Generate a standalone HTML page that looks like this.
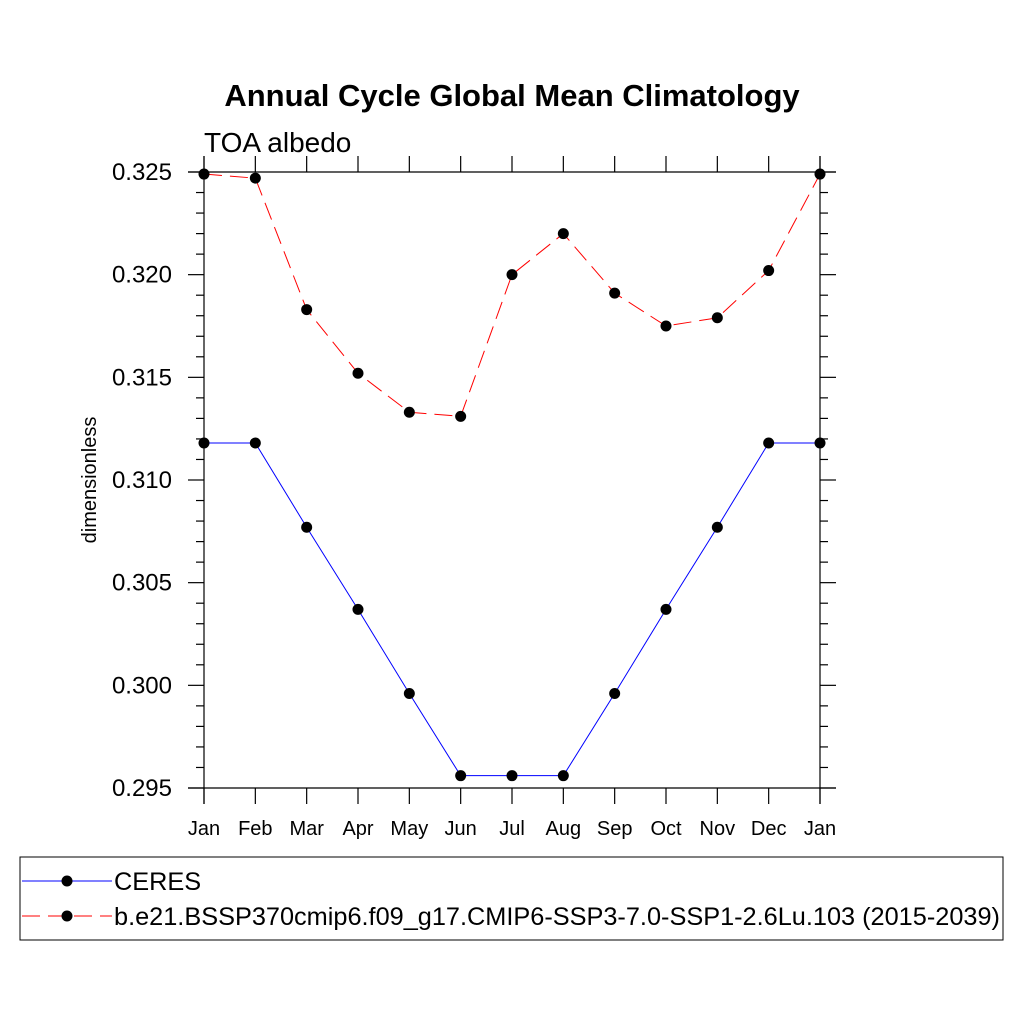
<!DOCTYPE html>
<html><head><meta charset="utf-8"><style>
body{margin:0;background:#fff;font-family:"Liberation Sans",sans-serif}
</style></head><body>
<svg width="1024" height="1024" xmlns="http://www.w3.org/2000/svg" font-family="Liberation Sans, sans-serif">
<text x="512" y="106" text-anchor="middle" font-size="31" font-weight="bold">Annual Cycle Global Mean Climatology</text>
<text x="204" y="152" font-size="28">TOA albedo</text>
<text transform="translate(96,480) rotate(-90)" text-anchor="middle" font-size="20">dimensionless</text>
<g id="axes" stroke="#000" stroke-width="1.2" fill="none"></g>
<g id="lbl" font-size="24"></g>
<g id="series"></g>
<rect x="20" y="857" width="983" height="83" fill="none" stroke="#000" stroke-width="1"/>
<g>
<line x1="22" y1="881" x2="112" y2="881" stroke="#00f" stroke-width="1"/>
<circle cx="67" cy="881" r="5.5" fill="#000"/>
<text x="114" y="890" font-size="25.3">CERES</text>
</g>
<g>
<line x1="22" y1="916" x2="112" y2="916" stroke="#f00" stroke-width="1" stroke-dasharray="18,8"/>
<circle cx="67" cy="916" r="5.5" fill="#000"/>
<text x="114" y="925" font-size="25.3">b.e21.BSSP370cmip6.f09_g17.CMIP6-SSP3-7.0-SSP1-2.6Lu.103 (2015-2039)</text>
</g>
</svg>
<script>
const months=["Jan","Feb","Mar","Apr","May","Jun","Jul","Aug","Sep","Oct","Nov","Dec","Jan"];
const ceres=[0.3118,0.3118,0.3077,0.3037,0.2996,0.2956,0.2956,0.2956,0.2996,0.3037,0.3077,0.3118,0.3118];
const model=[0.3249,0.3247,0.3183,0.3152,0.3133,0.3131,0.3200,0.3220,0.3191,0.3175,0.3179,0.3202,0.3249];
const yTicks=["0.295","0.300","0.305","0.310","0.315","0.320","0.325"];
const X0=204,X1=820,Y0=788,Y1=172,ymin=0.295,ymax=0.325;
const xs=i=>X0+(X1-X0)*i/12;
const ys=v=>Y0-(v-ymin)/(ymax-ymin)*(Y0-Y1);
const NS="http://www.w3.org/2000/svg";
function mk(t,a,p){const e=document.createElementNS(NS,t);for(const k in a)e.setAttribute(k,a[k]);p.appendChild(e);return e;}
const ax=document.getElementById('axes'),lb=document.getElementById('lbl'),se=document.getElementById('series');
let l;
l=mk('line',{x1:188,y1:Y1,x2:836,y2:Y1},ax);
l=mk('line',{x1:188,y1:Y0,x2:836,y2:Y0},ax);
l=mk('line',{x1:X0,y1:156,x2:X0,y2:804},ax);
l=mk('line',{x1:X1,y1:156,x2:X1,y2:804},ax);
months.forEach((m,i)=>{const x=xs(i);
 mk('line',{x1:x,y1:Y0,x2:x,y2:804},ax);mk('line',{x1:x,y1:Y1,x2:x,y2:156},ax);
 const t=mk('text',{x:x,y:835,'text-anchor':'middle','font-size':20},lb);t.textContent=m;
 
 });
for(let k=0;k<=30;k++){const v=ymin+k*0.001,y=ys(v),len=(k%5==0)?16:8;
 mk('line',{x1:X0-len,y1:y,x2:X0,y2:y},ax);mk('line',{x1:X1,y1:y,x2:X1+len,y2:y},ax);}
yTicks.forEach(s=>{const t=mk('text',{x:172,y:ys(+s)+8,'text-anchor':'end'},lb);t.textContent=s;
 
 });
function draw(d,col,dash,name){
 const g=mk('g',{},se);
 
 
 const p=mk('polyline',{points:d.map((v,i)=>xs(i)+','+ys(v)).join(' '),fill:'none',stroke:col,'stroke-width':1},g);
 if(dash)p.setAttribute('stroke-dasharray',dash);
 d.forEach((v,i)=>{const c=mk('circle',{cx:xs(i),cy:ys(v),r:5.5,fill:'#000'},g);
  
  });
}
draw(ceres,'#00f',null,'ceres-series');
draw(model,'#f00','18,8','model-series');
</script>
</body></html>
